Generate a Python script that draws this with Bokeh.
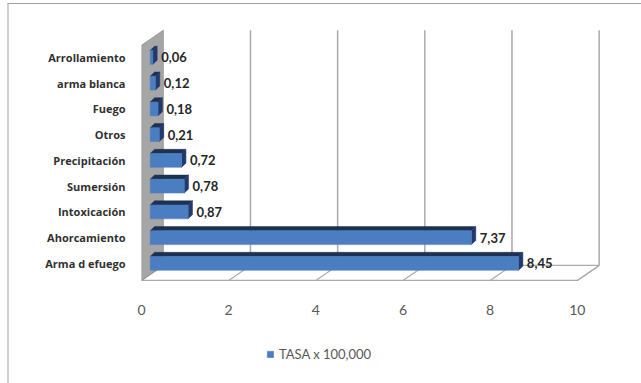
from bokeh.plotting import figure
from bokeh.models import (ColumnDataSource, FixedTicker, Legend, LegendItem, Range1d)
from bokeh.core.properties import value
from bokeh.embed import file_html
from bokeh.resources import INLINE

# ---- data (bottom to top) ----
categories = ["Arma d efuego", "Ahorcamiento", "Intoxicación", "Sumersión",
              "Precipitación", "Otros", "Fuego", "arma blanca", "Arrollamiento"]
values = [8.45, 7.37, 0.87, 0.78, 0.72, 0.21, 0.18, 0.12, 0.06]
x_ticks = [0, 2, 4, 6, 8, 10]
series_name = "TASA x 100,000"

# ---- 3D-ish geometry (in data units) ----
DX, DY = 0.5, 0.58        # depth offset of the back wall
BX, BY = 0.1, 0.16        # bar depth
X0 = 0.2                  # bar front-face start
HALF = 0.27               # half bar height
YB, YT = -0.66, 8.47      # floor / wall top (front)

FRONT = "#4a7ec1"
TOPC = "#1d3152"
SIDEC = "#22396a"
GRID = "#ababab"

p = figure(width=634, height=380, output_backend="svg", toolbar_location=None,
           x_range=Range1d(0, 10.6), y_range=Range1d(-4.43, 9.16),
           min_border_left=132, min_border_right=40, min_border_top=23,
           min_border_bottom=7)
p.margin = (3, 0, 0, 7)
p.styles = {"border-top": "1px solid #a0a0a0", "border-left": "2px solid #cfcfcf",
            "box-sizing": "border-box"}
p.outline_line_color = None
p.xgrid.visible = False
p.ygrid.visible = False
p.background_fill_color = "white"
p.border_fill_color = "white"

# floor
p.patch([0, 10, 10 + DX, DX], [YB, YB, YB + DY, YB + DY],
        fill_color="white", line_color=GRID, line_width=1.2)
for v in x_ticks[1:]:
    p.line([v, v + DX], [YB, YB + DY], line_color=GRID, line_width=1.2)
# back wall grid lines
for v in x_ticks[1:]:
    p.line([v + DX, v + DX], [YB + DY, YT + DY], line_color=GRID, line_width=1.5)
# left wall
p.patch([0, DX, DX, 0], [YB, YB + DY, YT + DY, YT],
        fill_color="#a6a6a6", line_color="#8c8c8c", line_width=0.8)

# bars
ys = list(range(len(categories)))
rights = [X0 + v for v in values]
src = ColumnDataSource(dict(y=ys, v=values, right=rights,
                            bottom=[y - HALF for y in ys], top=[y + HALF for y in ys],
                            lbl=[f"{v:.2f}".replace(".", ",") for v in values],
                            lx=[X0 + v + BX for v in values]))
top_xs = [[X0, r, r + BX, X0 + BX] for r in rights]
top_ys = [[y + HALF, y + HALF, y + HALF + BY, y + HALF + BY] for y in ys]
side_xs = [[r, r + BX, r + BX, r] for r in rights]
side_ys = [[y - HALF, y - HALF + BY, y + HALF + BY, y + HALF] for y in ys]
p.patches(top_xs, top_ys, fill_color=TOPC, line_color=TOPC, line_width=0.5)
p.patches(side_xs, side_ys, fill_color=SIDEC, line_color=SIDEC, line_width=0.5)
bars = p.quad(left=X0, right="right", bottom="bottom", top="top", source=src,
              fill_color=FRONT, line_color=FRONT, line_width=0.5)

p.text(x="lx", y="y", text="lbl", source=src, x_offset=4,
       text_baseline="middle", text_align="left", text_font=value("Lato"),
       text_font_style="bold", text_font_size="13px", text_color="#262626")

# axes
p.xaxis.ticker = FixedTicker(ticks=x_ticks)
p.xaxis.axis_line_color = None
p.xaxis.major_tick_line_color = None
p.xaxis.minor_tick_line_color = None
p.xaxis.major_label_standoff = -79
p.xaxis.major_label_text_font = "Lato"
p.xaxis.major_label_text_font_size = "14px"
p.xaxis.major_label_text_color = "#595959"

p.yaxis.ticker = FixedTicker(ticks=ys)
p.yaxis.major_label_overrides = {i: c for i, c in enumerate(categories)}
p.yaxis.axis_line_color = None
p.yaxis.major_tick_line_color = None
p.yaxis.minor_tick_line_color = None
p.yaxis.major_label_standoff = 10
p.yaxis.major_label_text_font = "Open Sans"
p.yaxis.major_label_text_font_style = "bold"
p.yaxis.major_label_text_font_size = "11px"
p.yaxis.major_label_text_color = "#303030"

legend = Legend(items=[LegendItem(label=series_name, renderers=[bars])],
                location=(125, 15), orientation="horizontal",
                border_line_color=None, background_fill_alpha=0,
                label_text_font="Lato", label_text_font_size="13px",
                label_text_color="#595959", glyph_width=8, glyph_height=8,
                label_standoff=5, margin=0, padding=4)
p.add_layout(legend)

open("out.html", "w").write(file_html(p, INLINE))
